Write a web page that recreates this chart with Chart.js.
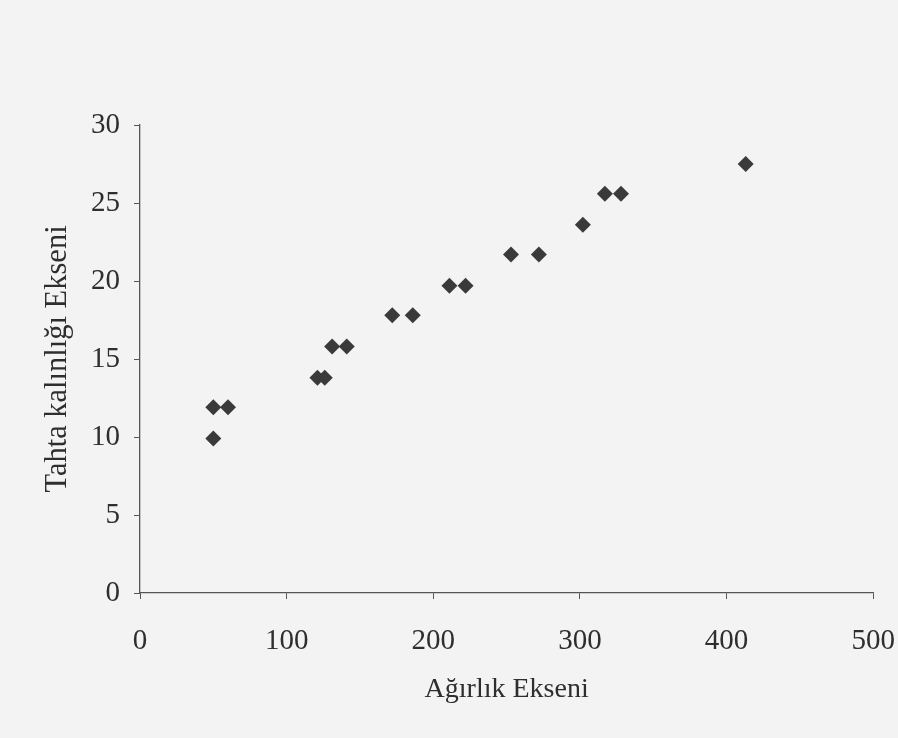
<!DOCTYPE html>
<html>
<head>
<meta charset="utf-8">
<script src="https://cdn.jsdelivr.net/npm/chart.js@4.4.0/dist/chart.umd.min.js"></script>
<style>
  html, body { margin: 0; padding: 0; background: #f3f3f3; overflow: hidden; width: 898px; height: 738px; }
  #c { display: block; }
</style>
</head>
<body>
<canvas id="c" width="920" height="738"></canvas>
<script>
// Data
const weights = [50, 50, 60, 121, 126, 131, 141, 172, 186, 211, 222, 253, 272, 302, 317, 328, 413];
const thickness = [9.9, 11.9, 11.9, 13.8, 13.8, 15.8, 15.8, 17.8, 17.8, 19.7, 19.7, 21.7, 21.7, 23.6, 25.6, 25.6, 27.5];
const xTicks = [0, 100, 200, 300, 400, 500];
const yTicks = [0, 5, 10, 15, 20, 25, 30];
const xTitle = 'Ağırlık Ekseni';
const yTitle = 'Tahta kalınlığı Ekseni';

const points = weights.map((w, i) => ({ x: w, y: thickness[i] }));
const serif = '"Liberation Serif", "DejaVu Serif", serif';
const ink = '#2e2e2e';

new Chart(document.getElementById('c'), {
  type: 'scatter',
  data: {
    datasets: [{
      data: points,
      pointStyle: 'rectRot',
      pointRadius: 8,
      pointHoverRadius: 8,
      backgroundColor: '#3a3a3a',
      borderColor: '#3a3a3a',
      borderWidth: 0
    }]
  },
  options: {
    responsive: false,
    animation: false,
    layout: { padding: { top: 125, right: 46, left: 0, bottom: 0 } },
    plugins: { legend: { display: false }, tooltip: { enabled: false } },
    scales: {
      x: {
        type: 'linear',
        min: xTicks[0],
        max: xTicks[xTicks.length - 1],
        afterBuildTicks: s => { s.ticks = xTicks.map(v => ({ value: v })); },
        afterFit: s => { s.height = 738 - 593; },
        grid: { drawOnChartArea: false, drawTicks: true, tickLength: 6, color: '#555', lineWidth: 1 },
        border: { display: true, color: '#555', width: 1.3 },
        ticks: { color: ink, font: { family: serif, size: 29 }, padding: 25, maxRotation: 0 },
        title: { display: true, text: xTitle, color: ink, font: { family: serif, size: 28 }, padding: { top: 0, bottom: 32 } }
      },
      y: {
        type: 'linear',
        min: yTicks[0],
        max: yTicks[yTicks.length - 1],
        afterBuildTicks: s => { s.ticks = yTicks.map(v => ({ value: v })); },
        afterFit: s => { s.width = 140; },
        grid: { drawOnChartArea: false, drawTicks: true, tickLength: 6, color: '#555', lineWidth: 1 },
        border: { display: true, color: '#555', width: 1.3 },
        ticks: { color: ink, font: { family: serif, size: 29 }, padding: 14 },
        title: { display: true, text: yTitle, color: ink, font: { family: serif, size: 30.5 }, padding: { top: 40, bottom: 0 } }
      }
    }
  }
});
</script>
</body>
</html>
